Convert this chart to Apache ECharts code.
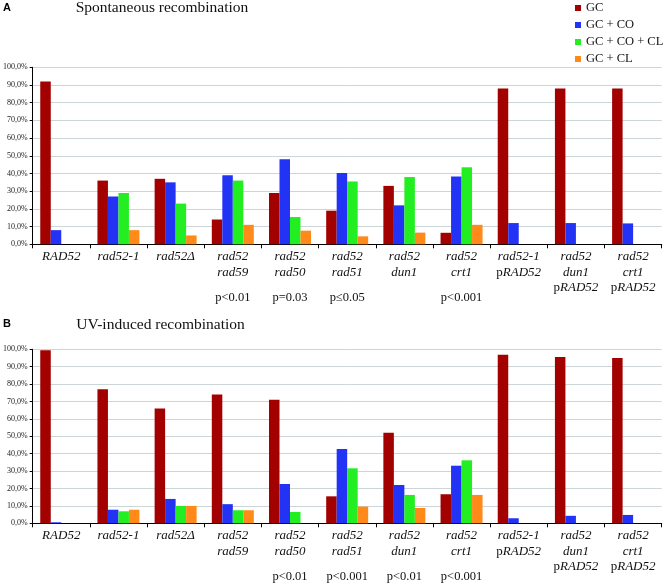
<!DOCTYPE html>
<html><head><meta charset="utf-8">
<script src="https://cdn.jsdelivr.net/npm/echarts@6/dist/echarts.min.js"></script>
<style>html,body{margin:0;padding:0;background:#fff}#c{width:669px;height:586px}</style>
</head><body><div id="c"></div>
<script>
var categories = ['RAD52','rad52-1','rad52\u0394','rad52\nrad59','rad52\nrad50','rad52\nrad51','rad52\ndun1','rad52\ncrt1','rad52-1\npRAD52','rad52\ndun1\npRAD52','rad52\ncrt1\npRAD52'];
var seriesNames = ['GC','GC + CO','GC + CO + CL','GC + CL'];
var yTicks = [0,10,20,30,40,50,60,70,80,90,100];

var spontGC   = [92, 36, 37, 14, 29, 19, 33, 6.5, 88, 88, 88];
var spontCO   = [8, 27, 35, 39, 48, 40.3, 22, 38.3, 12, 12, 11.8];
var spontCOCL = [0, 29, 23, 36, 15.4, 35.5, 38, 43.5, 0, 0, 0];
var spontCL   = [0, 8, 5, 11, 7.7, 4.5, 6.6, 11, 0, 0, 0];
var spontP    = ['', '', '', 'p<0.01', 'p=0.03', 'p\u22640.05', '', 'p<0.001', '', '', ''];

var uvGC   = [99.5, 77, 66, 74, 71, 15.5, 52, 16.7, 96.8, 95.6, 95];
var uvCO   = [0.6, 7.8, 14, 11, 22.6, 42.7, 22, 33.1, 2.9, 4.3, 4.8];
var uvCOCL = [0, 6.9, 10, 7.5, 6.5, 31.6, 16.3, 36.2, 0, 0, 0];
var uvCL   = [0, 7.8, 10, 7.5, 0, 9.6, 8.8, 16.3, 0, 0, 0];
var uvP    = ['', '', '', '', 'p<0.01', 'p<0.001', 'p<0.01', 'p<0.001', '', '', ''];

var colors = ['#a30000', '#2233f5', '#22ee22', '#ff8a1a'];
var serif = 'Liberation Serif, Times New Roman, serif';

function catFormatter(v) {
  return v.split('\n').map(function (line) {
    if (line.indexOf('pRAD') === 0) return '{n|p}{i|' + line.slice(1) + '}';
    return '{i|' + line + '}';
  }).join('\n');
}
var richLbl = {
  i: {fontFamily: serif, fontStyle: 'italic', fontSize: 13, lineHeight: 15.5, color: '#111'},
  n: {fontFamily: serif, fontSize: 13, lineHeight: 15.5, color: '#111'}
};

function makeX(gi) {
  return {
    type: 'category', gridIndex: gi, data: categories,
    axisLine: {lineStyle: {color: '#000', width: 1}},
    axisTick: {show: true, length: 4, lineStyle: {color: '#000'}},
    axisLabel: {interval: 0, margin: 5, formatter: catFormatter, rich: richLbl, verticalAlign: 'top'}
  };
}
function makePX(gi, arr) {
  return {
    type: 'category', gridIndex: gi, data: arr, position: 'bottom', offset: 41,
    axisLine: {show: false}, axisTick: {show: false}, splitLine: {show: false},
    axisLabel: {interval: 0, margin: 4, fontFamily: serif, fontSize: 12.5, color: '#111', lineHeight: 16}
  };
}
function makeY(gi) {
  return {
    type: 'value', gridIndex: gi, min: 0, max: 100, interval: 10,
    axisLine: {show: true, lineStyle: {color: '#000'}},
    axisTick: {show: true, length: 3, lineStyle: {color: '#000'}},
    splitLine: {lineStyle: {color: '#ccd5d8', width: 1}},
    axisLabel: {margin: 5, fontFamily: serif, fontSize: 8, color: '#222',
      formatter: function (v) { return v.toFixed(1).replace('.', ',') + '%'; }}
  };
}
function bars(gi, arrs) {
  return arrs.map(function (a, k) {
    return {
      name: seriesNames[k], type: 'bar', xAxisIndex: gi * 2, yAxisIndex: gi,
      data: a, barWidth: 10.5, barGap: '0%', itemStyle: {color: colors[k]},
      animation: false
    };
  });
}

var chart = echarts.init(document.getElementById('c'));
chart.setOption({
  animation: false,
  color: colors,
  legend: {
    data: seriesNames, orient: 'vertical', left: 570, top: -4,
    itemWidth: 6, itemHeight: 6, itemGap: 3, icon: 'rect',
    textStyle: {fontFamily: serif, fontSize: 12.5, color: '#111', lineHeight: 14}
  },
  grid: [
    {left: 30, right: 7.3, top: 67.3, height: 177, containLabel: false},
    {left: 30, right: 7.3, top: 349.3, height: 174, containLabel: false}
  ],
  xAxis: [makeX(0), makePX(0, spontP), makeX(1), makePX(1, uvP)],
  yAxis: [makeY(0), makeY(1)],
  graphic: [
    {type: 'text', left: 3, top: 2, style: {text: 'A', fontFamily: 'Liberation Sans, Arial, sans-serif', fontWeight: 'bold', fontSize: 11, fill: '#000'}},
    {type: 'text', left: 3, top: 318, style: {text: 'B', fontFamily: 'Liberation Sans, Arial, sans-serif', fontWeight: 'bold', fontSize: 11, fill: '#000'}},
    {type: 'text', x: 162, y: 8, style: {text: 'Spontaneous recombination', fontFamily: serif, fontSize: 15.5, fill: '#111', textAlign: 'center', textVerticalAlign: 'middle'}},
    {type: 'text', x: 160.5, y: 325, style: {text: 'UV-induced recombination', fontFamily: serif, fontSize: 15.5, fill: '#111', textAlign: 'center', textVerticalAlign: 'middle'}}
  ],
  series: bars(0, [spontGC, spontCO, spontCOCL, spontCL]).concat(bars(1, [uvGC, uvCO, uvCOCL, uvCL]))
});
</script>
</body></html>
